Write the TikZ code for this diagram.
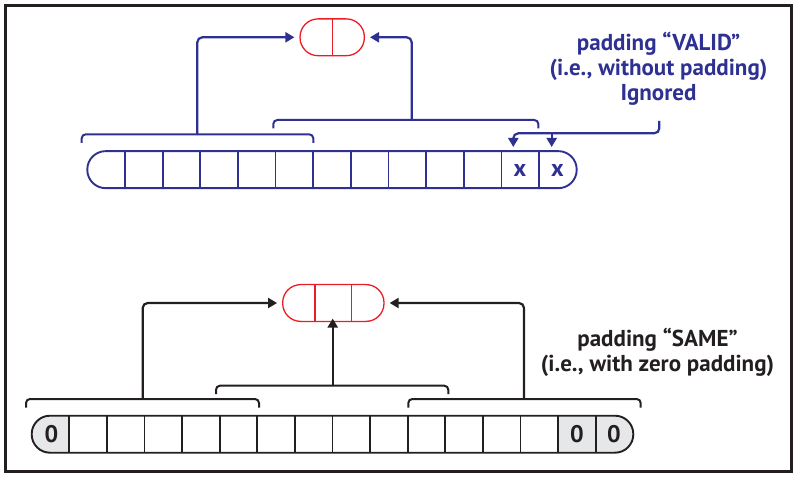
\documentclass[tikz,border=0pt]{standalone}
\usepackage{fontspec}
\setmainfont{PT Sans}
\usetikzlibrary{arrows.meta}
\definecolor{cblue}{RGB}{46,49,146}
\definecolor{cred}{RGB}{237,28,36}
\definecolor{cblack}{RGB}{35,31,32}
\definecolor{cgray}{RGB}{230,231,232}
\tikzset{
  arrbox/.style={draw, line width=1.9pt, rounded corners=18.3pt, minimum height=37pt, inner sep=0pt},
  divider/.style={line width=1.8pt},
  brk/.style={line width=2pt, rounded corners=4pt},
  conn/.style={line width=2.2pt, rounded corners=5pt, -{Triangle[length=9pt,width=10pt]}},
  outbox/.style={draw=cred, line width=1.3pt, rounded corners=18pt, minimum height=36.8pt, inner sep=0pt},
  lbl/.style={font=\bfseries\fontsize{23}{25}\selectfont, align=center, inner sep=0pt},
  celltxt/.style={font=\bfseries\fontsize{24}{24}\selectfont, inner sep=0pt},
}
\begin{document}
\begin{tikzpicture}[x=1pt,y=-1pt]
\useasboundingbox (0,0) rectangle (795,478);
\draw[line width=3pt, cblack] (5,5.5) rectangle (791.5,471.5);

% ---------- top: VALID ----------
\node[outbox, minimum width=64.3pt] (outA) at (332.2,37.3) {};
\draw[cred, line width=1.3pt] (outA.north) -- (outA.south);

\node[arrbox, draw=cblue, minimum width=489.4pt] (arrA) at (332,169.65) {};
\foreach \i in {1,...,12}
  \draw[cblue, divider] ({87.3+\i*37.65},151.2) -- ({87.3+\i*37.65},188.1);

\node[celltxt, text=cblue] (xa) at (520,171) {x};
\node[celltxt, text=cblue] (xb) at (557.5,171) {x};

\draw[cblue, brk] (81.7,143) -- (81.7,134.3) -- (313.3,134.3) -- (313.3,143);
\draw[cblue, brk] (273.3,128.3) -- (273.3,120) -- (538.3,120) -- (538.3,128.3);
\coordinate (bA1) at (197.3,134.3);
\coordinate (bA2) at (411.7,120);
\draw[cblue, conn] (bA1) |- ([xshift=-5pt]outA.west);
\draw[cblue, conn] (bA2) |- ([xshift=5pt]outA.east);

\node[lbl, text=cblue] (valid) at (658.5,69) {padding “VALID”\\(i.e., without padding)\\Ignored};
\coordinate (ig) at (659.3,121);
\coordinate (tipa) at (513.3,147);
\coordinate (tipb) at (551.7,147);
\coordinate (split) at (551.7,133.3);
\draw[cblue, conn] (ig) -- (659.3,133.3) -| (tipa);
\draw[cblue, conn] (split) -- (tipb);

% ---------- bottom: SAME ----------
\node[outbox, minimum width=101.3pt] (outB) at (333.35,303) {};
\draw[cred, line width=1.3pt] (315,284.6) -- (315,321.4);
\draw[cred, line width=1.3pt] (351.7,284.6) -- (351.7,321.4);

\begin{scope}
  \clip[rounded corners=18.3pt] (31.7,415.7) rectangle (633.3,452.7);
  \fill[cgray] (31.7,415.7) rectangle (69.3,452.7);
  \fill[cgray] (559,415.7) rectangle (633.3,452.7);
\end{scope}
\node[arrbox, draw=cblack, minimum width=601.6pt] (arrB) at (332.5,434.2) {};
\foreach \i in {1,...,15}
  \draw[cblack, divider] ({31.7+\i*37.6},415.9) -- ({31.7+\i*37.6},452.5);

\node[celltxt, text=cblack] (z1) at (51.5,434.5) {0};
\node[celltxt, text=cblack] (z2) at (577,434.5) {0};
\node[celltxt, text=cblack] (z3) at (614,434.5) {0};

\draw[cblack, brk] (26,407.7) -- (26,399) -- (259,399) -- (259,407.7);
\draw[cblack, brk] (216,394) -- (216,385.7) -- (448.3,385.7) -- (448.3,394);
\draw[cblack, brk] (408.3,407.7) -- (408.3,399) -- (640.7,399) -- (640.7,407.7);
\coordinate (bB1) at (142.7,399);
\coordinate (bB2) at (332.7,385.7);
\coordinate (bB3) at (524,399);
\draw[cblack, conn] (bB1) |- ([xshift=-5pt]outB.west);
\draw[cblack, conn] (bB2) -- ([yshift=3.5pt]outB.south -| bB2);
\draw[cblack, conn] (bB3) |- ([xshift=5pt]outB.east);

\node[lbl, text=cblack] (same) at (657.5,352.5) {padding “SAME”\\(i.e., with zero padding)};
\end{tikzpicture}
\end{document}
